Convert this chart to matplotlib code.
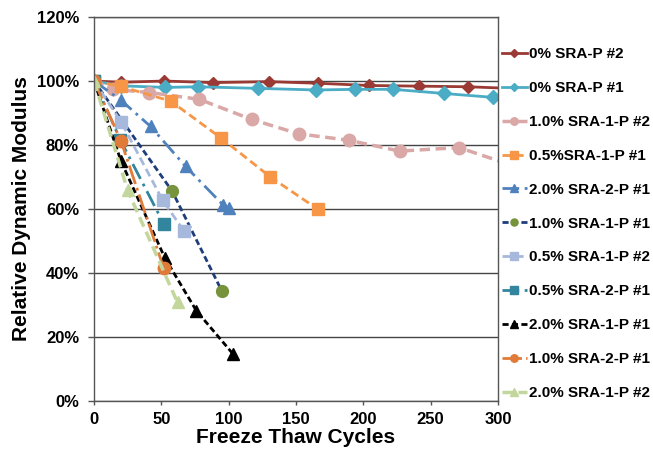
import matplotlib
matplotlib.use("Agg")
import matplotlib.pyplot as plt
from matplotlib.ticker import FuncFormatter

plt.rcParams['font.family'] = ['Liberation Sans', 'DejaVu Sans']
plt.rcParams['font.weight'] = 'bold'

# freeze thaw cycles / relative dynamic modulus (%) per specimen
labels = ["0% SRA-P #2", "0% SRA-P #1", "1.0% SRA-1-P #2", "0.5%SRA-1-P #1",
          "2.0% SRA-2-P #1", "1.0% SRA-1-P #1", "0.5% SRA-1-P #2", "0.5% SRA-2-P #1",
          "2.0% SRA-1-P #1", "1.0% SRA-2-P #1", "2.0% SRA-1-P #2"]

sra0_p2_x = [0, 20, 52, 88, 130, 166, 204, 241, 278, 315]
sra0_p2_y = [100, 99.6, 100, 99.5, 99.8, 99.3, 98.6, 98.4, 98.2, 97.6]
sra0_p1_x = [0, 20, 53, 77, 122, 165, 194, 222, 260, 296]
sra0_p1_y = [100, 98.5, 98.0, 98.2, 97.7, 97.2, 97.4, 97.4, 96.1, 94.9]
sra10_1_p2_x = [0, 14, 41, 78, 117, 152, 189, 227, 271, 315]
sra10_1_p2_y = [100, 97.4, 96.4, 94.3, 88.0, 83.5, 81.5, 78.1, 79.2, 73.0]
sra05_1_p1_x = [0, 20, 57, 94, 131, 166]
sra05_1_p1_y = [100, 98.3, 93.7, 82.3, 70.0, 60.0]
sra20_2_p1_x = [0, 20, 42, 68, 96, 100]
sra20_2_p1_y = [100, 94.0, 85.8, 73.3, 61.2, 60.2]
sra10_1_p1_x = [0, 58, 95]
sra10_1_p1_y = [100, 65.6, 34.3]
sra05_1_p2_x = [0, 20, 51, 67]
sra05_1_p2_y = [100, 87.3, 62.7, 53.0]
sra05_2_p1_x = [0, 19.5, 52]
sra05_2_p1_y = [100, 81.6, 55.2]
sra20_1_p1_x = [0, 20, 52.5, 76, 103]
sra20_1_p1_y = [100, 75.0, 44.8, 28.2, 14.8]
sra10_2_p1_x = [0, 20, 51.6]
sra10_2_p1_y = [100, 81.3, 41.7]
sra20_1_p2_x = [0, 25, 62]
sra20_1_p2_y = [100, 65.8, 30.8]

xs = [sra0_p2_x, sra0_p1_x, sra10_1_p2_x, sra05_1_p1_x, sra20_2_p1_x, sra10_1_p1_x,
      sra05_1_p2_x, sra05_2_p1_x, sra20_1_p1_x, sra10_2_p1_x, sra20_1_p2_x]
ys = [sra0_p2_y, sra0_p1_y, sra10_1_p2_y, sra05_1_p1_y, sra20_2_p1_y, sra10_1_p1_y,
      sra05_1_p2_y, sra05_2_p1_y, sra20_1_p1_y, sra10_2_p1_y, sra20_1_p2_y]

# (line colour, marker face, marker, marker size, dashes, line width)
styles = [
    ("#9b3a34", "#9b3a34", "D", 6.5, None, 2.0),
    ("#4bacc6", "#4bacc6", "D", 7, None, 2.0),
    ("#d9a8a7", "#d9a8a7", "o", 9, (3, 1.6), 2.5),
    ("#f79646", "#f79646", "s", 8.5, (3, 1.6), 2.0),
    ("#4f81bd", "#4f81bd", "^", 9, (6, 2, 1, 2), 2.0),
    ("#1f3d7a", "#77933c", "o", 8.5, (2.2, 1.2), 2.0),
    ("#a6b9dc", "#a6b9dc", "s", 9, (3, 1.6), 2.0),
    ("#31859c", "#31859c", "s", 8.5, (6, 2, 1, 2), 2.0),
    ("#000000", "#000000", "^", 8.5, (2.2, 1.2), 2.0),
    ("#e07b39", "#e07b39", "o", 9, (7, 1.5, 1, 1.5), 2.0),
    ("#c3d69b", "#c3d69b", "^", 9, (3, 1.6), 2.5),
]

fig = plt.figure(figsize=(6.53, 4.55), dpi=100)
ax = fig.add_axes([0.144, 0.1187, 0.6186, 0.8439])

for x, y, lab, (lc, mf, mk, ms, ds, lw) in zip(xs, ys, labels, styles):
    line, = ax.plot(x, [v / 100 for v in y], color=lc, marker=mk, markersize=ms,
                    markerfacecolor=mf, markeredgecolor=mf, linewidth=lw, label=lab,
                    clip_on=True)
    if ds is not None:
        line.set_dashes(ds)

ax.set_xlim(0, 300)
ax.set_ylim(0, 1.2)
ax.set_xticks(range(0, 301, 50))
ax.set_yticks([i / 10 for i in range(0, 13, 2)])
ax.yaxis.set_major_formatter(FuncFormatter(lambda v, p: f"{v * 100:.0f}%"))
ax.tick_params(axis='both', direction='out', width=1, colors='#555555',
               labelcolor='black', labelsize=12)
ax.tick_params(axis='y', length=4.3, pad=6.5)
ax.tick_params(axis='x', length=3, pad=5)
for t in ax.get_xticklabels() + ax.get_yticklabels():
    t.set_fontweight('bold')
ax.grid(axis='y', color='#444444', linewidth=1)
ax.set_axisbelow(True)
for s in ax.spines.values():
    s.set_color('#555555')
    s.set_linewidth(1)

ax.set_xlabel("Freeze Thaw Cycles", fontsize=15, fontweight='bold', labelpad=1)
ax.set_ylabel("Relative Dynamic Modulus", fontsize=15, fontweight='bold', labelpad=4)

leg = fig.legend(loc='upper left', bbox_to_anchor=(0.768, 0.896), frameon=False,
                 prop={'weight': 'bold', 'size': 11}, handlelength=1.65,
                 handletextpad=0.13, labelspacing=1.30, borderaxespad=0,
                 borderpad=0, markerscale=0.6)

fig.savefig("out.png", dpi=100)
